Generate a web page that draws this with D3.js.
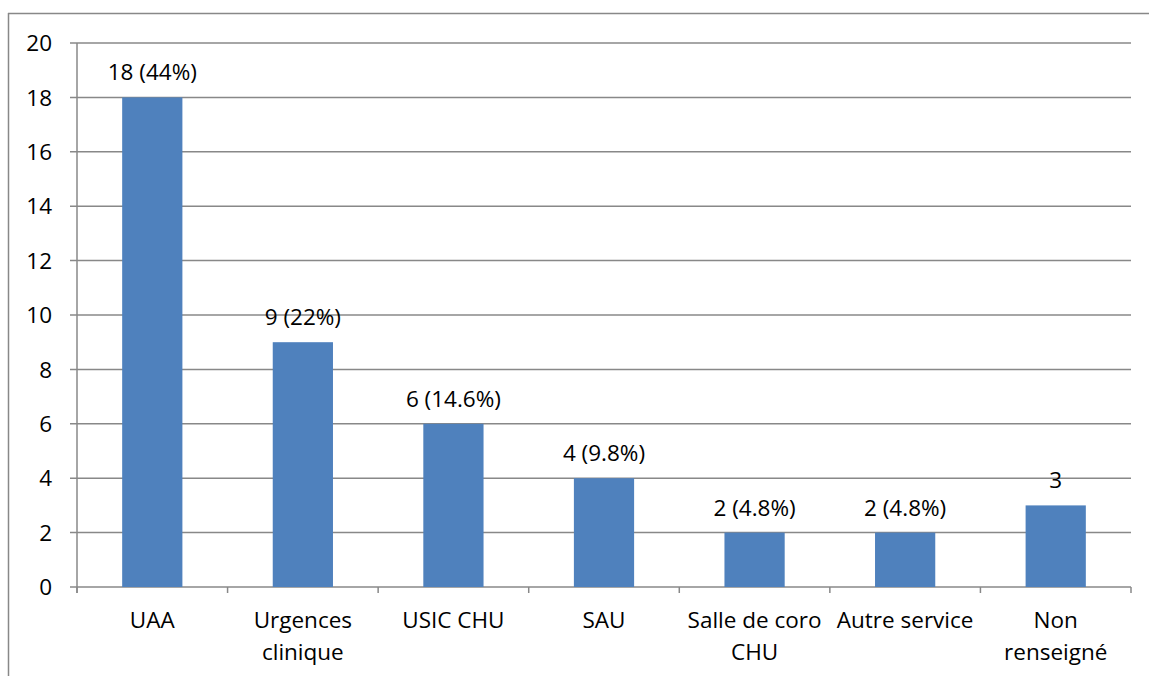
<!DOCTYPE html>
<html>
<head>
<meta charset="utf-8">
<script src="https://cdn.jsdelivr.net/npm/d3@7"></script>
<style>
  body { margin: 0; background: #fff; }
  svg text { font-family: "Open Sans", "Noto Sans", sans-serif; fill: #000; }
</style>
</head>
<body>
<svg id="chart" width="1149" height="676"></svg>
<script>
// Services (libellés sur deux lignes quand le graphique les coupe)
const categories = ["UAA", "Urgences\nclinique", "USIC CHU", "SAU", "Salle de coro\nCHU", "Autre service", "Non\nrenseigné"];
const values = [18, 9, 6, 4, 2, 2, 3];
const valueLabels = ["18 (44%)", "9 (22%)", "6 (14.6%)", "4 (9.8%)", "2 (4.8%)", "2 (4.8%)", "3"];
const yTicks = [0, 2, 4, 6, 8, 10, 12, 14, 16, 18, 20];

const svg = d3.select("#chart");
const plotL = 77, plotR = 1131, plotT = 43, plotB = 587;
const gridColor = "#888";
const fs = 22.5;

// cadre
svg.append("line").attr("x1", 8).attr("x2", 1149).attr("y1", 13.5).attr("y2", 13.5)
  .attr("stroke", gridColor).attr("stroke-width", 1.5);
svg.append("line").attr("x1", 8.5).attr("x2", 8.5).attr("y1", 13).attr("y2", 676)
  .attr("stroke", gridColor).attr("stroke-width", 1.5);

const x = d3.scaleBand().domain(categories).range([plotL, plotR]).paddingInner(0.6).paddingOuter(0.3);
const y = d3.scaleLinear().domain([0, 20]).range([plotB, plotT]);

// grille + graduations Y
const gy = svg.append("g");
gy.selectAll("line").data(yTicks).join("line")
  .attr("x1", plotL - 7).attr("x2", plotR)
  .attr("y1", d => y(d)).attr("y2", d => y(d))
  .attr("stroke", gridColor).attr("stroke-width", 1.5);
gy.selectAll("text").data(yTicks).join("text")
  .attr("x", 52).attr("y", d => y(d)).attr("dy", "0.36em")
  .attr("text-anchor", "end").attr("font-size", fs)
  .text(d => d);

// axe Y
svg.append("line").attr("x1", plotL).attr("x2", plotL).attr("y1", plotT).attr("y2", plotB + 6)
  .attr("stroke", gridColor).attr("stroke-width", 1.5);

// graduations X entre catégories
const tickPos = d3.range(categories.length + 1).map(i => plotL + i * (plotR - plotL) / categories.length);
svg.append("g").selectAll("line").data(tickPos).join("line")
  .attr("x1", d => d).attr("x2", d => d).attr("y1", plotB).attr("y2", plotB + 6)
  .attr("stroke", gridColor).attr("stroke-width", 1.5);

// barres
svg.append("g").selectAll("rect").data(values).join("rect")
  .attr("x", (d, i) => x(categories[i]))
  .attr("width", x.bandwidth())
  .attr("y", d => y(d))
  .attr("height", d => plotB - y(d))
  .attr("fill", "#4F81BD");

// étiquettes de valeurs
svg.append("g").selectAll("text").data(values).join("text")
  .attr("x", (d, i) => x(categories[i]) + x.bandwidth() / 2)
  .attr("y", d => y(d) - 17)
  .attr("text-anchor", "middle").attr("font-size", fs)
  .text((d, i) => valueLabels[i]);

// libellés X
const xl = svg.append("g").selectAll("text").data(categories).join("text")
  .attr("text-anchor", "middle").attr("font-size", fs);
xl.each(function(d) {
  const t = d3.select(this);
  const cx = x(d) + x.bandwidth() / 2;
  d.split("\n").forEach((line, k) => {
    t.append("tspan").attr("x", cx).attr("y", 628 + k * 32).text(line);
  });
});
</script>
</body>
</html>
